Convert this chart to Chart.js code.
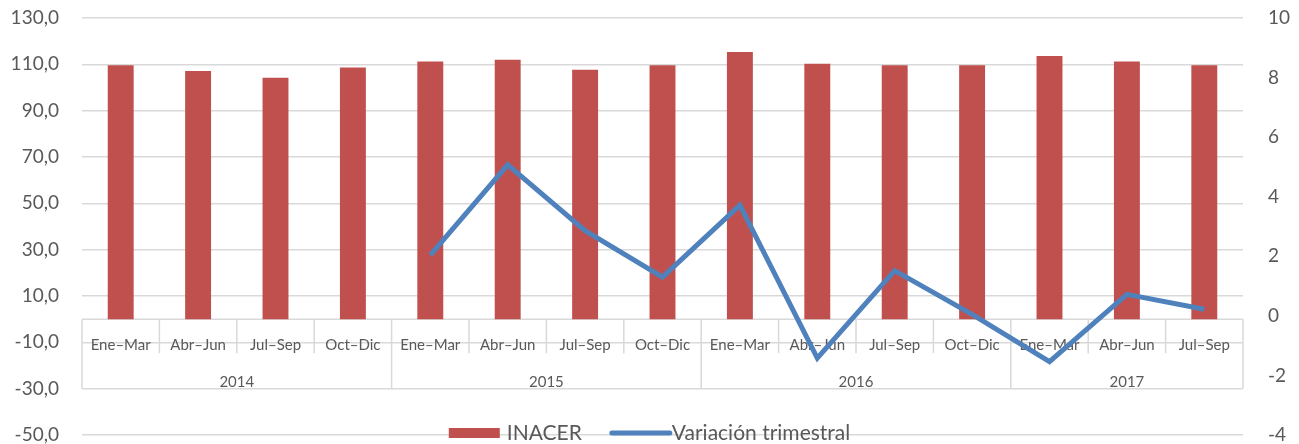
<!DOCTYPE html>
<html>
<head>
<meta charset="utf-8">
<script src="https://cdn.jsdelivr.net/npm/chart.js@4/dist/chart.umd.min.js"></script>
<style>
  html, body { margin: 0; padding: 0; background: #fff; }
  #wrap { width: 1299px; height: 444px; position: relative; }
</style>
</head>
<body>
<div id="wrap"><canvas id="grafico"></canvas></div>
<script>
// Datos
const trimestres = ['Ene–Mar', 'Abr–Jun', 'Jul–Sep', 'Oct–Dic',
                    'Ene–Mar', 'Abr–Jun', 'Jul–Sep', 'Oct–Dic',
                    'Ene–Mar', 'Abr–Jun', 'Jul–Sep', 'Oct–Dic',
                    'Ene–Mar', 'Abr–Jun', 'Jul–Sep'];
const anios = ['2014', '2015', '2016', '2017'];
const trimestresPorAnio = [4, 4, 4, 3];

const inacer = [109.6, 107.1, 104.2, 108.6, 111.2, 112.0, 107.7, 109.6,
                115.3, 110.3, 109.6, 109.6, 113.6, 111.2, 109.6];
const variacion = [null, null, null, null, 2.04, 5.07, 2.86, 1.30,
                   3.72, -1.42, 1.52, 0.05, -1.54, 0.72, 0.22];

const ticksIzq = { min: -50, max: 130, paso: 20 };
const ticksDer = { min: -4, max: 10, paso: 2 };

const GRIS_TEXTO = '#595959';
const GRIS_LINEA = '#d9d9d9';
const FUENTE = 'Lato';

// Eje de categorías en dos niveles (trimestre / año), dibujado sobre el cero
const ejeCategorias = {
    id: 'ejeCategorias',
    beforeDatasetsDraw(chart) {
        const { ctx, chartArea } = chart;
        const x = chart.scales.x;
        const y = chart.scales.y;
        const cero = y.getPixelForValue(0);
        const abajo = y.getPixelForValue(-30);
        const paso = x.getPixelForValue(1) - x.getPixelForValue(0);
        const borde = i => x.getPixelForValue(0) - paso / 2 + i * paso;

        ctx.save();
        ctx.strokeStyle = GRIS_LINEA;
        ctx.lineWidth = 1.5;
        ctx.beginPath();
        ctx.moveTo(chartArea.left, cero);
        ctx.lineTo(chartArea.right, cero);
        ctx.stroke();

        // separadores de año
        const limitesAnio = [0];
        trimestresPorAnio.forEach(n => limitesAnio.push(limitesAnio[limitesAnio.length - 1] + n));

        for (let i = 0; i <= trimestres.length; i++) {
            const esAnio = limitesAnio.includes(i);
            ctx.beginPath();
            ctx.moveTo(borde(i), cero);
            ctx.lineTo(borde(i), esAnio ? abajo : cero + 34);
            ctx.stroke();
        }

        ctx.fillStyle = GRIS_TEXTO;
        ctx.textAlign = 'center';
        ctx.textBaseline = 'middle';
        ctx.font = '15px ' + FUENTE;
        trimestres.forEach((t, i) => {
            ctx.fillText(t, x.getPixelForValue(i), cero + 26);
        });

        ctx.font = '15px ' + FUENTE;
        anios.forEach((a, k) => {
            const c = (borde(limitesAnio[k]) + borde(limitesAnio[k + 1])) / 2;
            ctx.fillText(a, c, abajo - 7);
        });
        ctx.restore();
    }
};

// Leyenda inferior, centrada y superpuesta a la última línea de cuadrícula
const leyenda = {
    id: 'leyendaInferior',
    afterDraw(chart) {
        const { ctx } = chart;
        const ds = chart.data.datasets;
        const yc = chart.scales.y.getPixelForValue(-50) - 2;
        ctx.save();
        ctx.font = '21px ' + FUENTE;
        ctx.textBaseline = 'middle';
        const w0 = ctx.measureText(ds[0].label).width;
        const w1 = ctx.measureText(ds[1].label).width;
        const total = 51 + 7 + w0 + 30 + 58 + 2 + w1;
        let px = chart.width / 2 - total / 2;

        ctx.fillStyle = ds[0].backgroundColor;
        ctx.fillRect(px, yc - 5, 51, 10);
        px += 51 + 7;
        ctx.fillStyle = GRIS_TEXTO;
        ctx.fillText(ds[0].label, px, yc);
        px += w0 + 30;

        ctx.strokeStyle = ds[1].borderColor;
        ctx.lineWidth = 5;
        ctx.lineCap = 'round';
        ctx.beginPath();
        ctx.moveTo(px, yc);
        ctx.lineTo(px + 58, yc);
        ctx.stroke();
        px += 58 + 2;
        ctx.fillText(ds[1].label, px, yc);
        ctx.restore();
    }
};

const formatoComa = v => v.toFixed(1).replace('.', ',');

new Chart(document.getElementById('grafico'), {
    type: 'bar',
    data: {
        labels: trimestres,
        datasets: [
            {
                label: 'INACER',
                data: inacer,
                backgroundColor: '#c0504d',
                categoryPercentage: 1,
                barPercentage: 0.335,
                yAxisID: 'y',
                order: 2
            },
            {
                type: 'line',
                label: 'Variación trimestral',
                data: variacion,
                borderColor: '#4f81bd',
                backgroundColor: '#4f81bd',
                borderWidth: 5,
                pointRadius: 0,
                tension: 0,
                fill: false,
                yAxisID: 'y1',
                order: 1
            }
        ]
    },
    options: {
        responsive: true,
        maintainAspectRatio: false,
        animation: false,
        layout: { padding: { top: 18, bottom: 9, left: 0, right: 0 } },
        plugins: {
            legend: { display: false },
            tooltip: { enabled: false }
        },
        scales: {
            x: {
                display: false,
                offset: true
            },
            y: {
                position: 'left',
                min: ticksIzq.min,
                max: ticksIzq.max,
                ticks: {
                    stepSize: ticksIzq.paso,
                    callback: formatoComa,
                    color: GRIS_TEXTO,
                    font: { family: FUENTE, size: 19, lineHeight: 0.9 },
                    padding: 0
                },
                grid: { color: GRIS_LINEA, lineWidth: 1.5, drawTicks: true, tickLength: 23, tickColor: 'rgba(0,0,0,0)' },
                border: { display: false },
                afterFit: s => { s.width = 82; }
            },
            y1: {
                position: 'right',
                min: ticksDer.min,
                max: ticksDer.max,
                ticks: {
                    stepSize: ticksDer.paso,
                    color: GRIS_TEXTO,
                    font: { family: FUENTE, size: 19, lineHeight: 0.9 },
                    padding: 0
                },
                grid: { drawOnChartArea: false, drawTicks: true, tickLength: 25, tickColor: 'rgba(0,0,0,0)' },
                border: { display: false },
                afterFit: s => { s.width = 56; }
            }
        }
    },
    plugins: [ejeCategorias, leyenda]
});
</script>
</body>
</html>
